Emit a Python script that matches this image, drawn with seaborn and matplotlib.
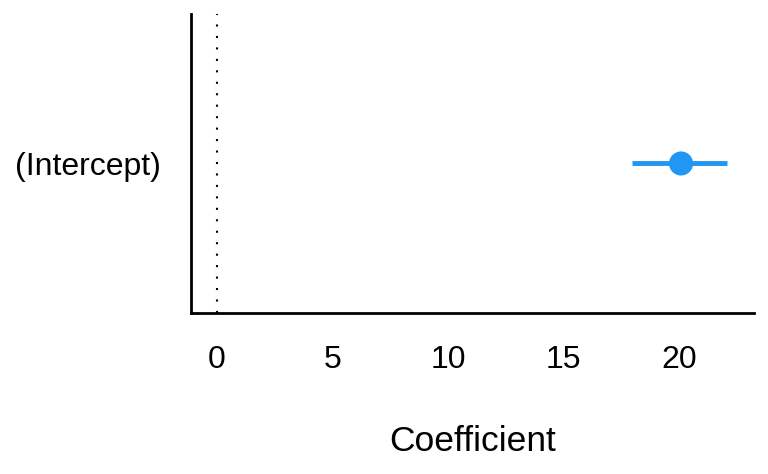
import matplotlib
matplotlib.use("Agg")
import matplotlib.pyplot as plt
import seaborn as sns
import pandas as pd

terms = ["(Intercept)"]
estimates = [20.09]
conf_low = [17.96]
conf_high = [22.08]

df = pd.DataFrame({"term": terms, "estimate": estimates,
                   "conf_low": conf_low, "conf_high": conf_high})

sns.set_style("white")
plt.rcParams['font.family'] = ['Liberation Sans', 'DejaVu Sans']

fig = plt.figure(figsize=(7.68, 4.74), dpi=100)
ax = fig.add_axes([0.2487, 0.3397, 0.7331, 0.6308])
col = "#2196F3"

ax.axvline(0, color="black", linestyle=(0, (1, 4.5)), linewidth=1.5, zorder=1)
ax.hlines(df["term"], df["conf_low"], df["conf_high"], color=col, linewidth=3.5, zorder=2)
sns.scatterplot(data=df, x="estimate", y="term", color=col, s=300,
                edgecolor="none", ax=ax, zorder=3)

ax.set_xlim(-1.13, 23.25)
ax.set_ylim(-1, 1)
ax.set_xticks([0, 5, 10, 15, 20])
ax.tick_params(axis="both", length=0, labelsize=23, labelcolor="black")
ax.tick_params(axis="x", pad=23)
ax.tick_params(axis="y", pad=22)
ax.set_xlabel("Coefficient", fontsize=25.5, labelpad=36, color="black")
ax.set_ylabel("")
sns.despine(ax=ax)
for s in ["left", "bottom"]:
    ax.spines[s].set_linewidth(2)
    ax.spines[s].set_color("black")

fig.savefig("out.png", dpi=100)
